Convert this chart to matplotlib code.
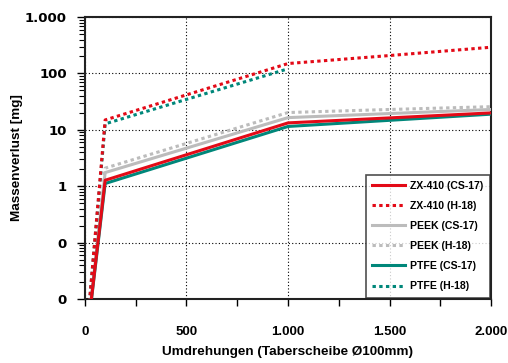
import numpy as np
import matplotlib.pyplot as plt
from matplotlib.ticker import LogLocator, MultipleLocator, NullFormatter

plt.rcParams['font.family'] = ['Liberation Sans', 'DejaVu Sans']
plt.rcParams['font.weight'] = 'bold'

# umdrehungen
x_cs = [0, 100, 1000, 2000]
x_h = [0, 100, 1000, 1500, 2000]
x_ptfe_h = [0, 100, 1000]

# massenverlust [mg]
zx_cs = [0.001, 1.28, 13.3, 20]
zx_h = [0.001, 15, 150, 208, 292]
peek_cs = [0.001, 1.75, 16.5, 23]
peek_h = [0.001, 2.1, 20.3, 23.0, 25.8]
ptfe_cs = [0.001, 1.12, 11.5, 19]
ptfe_h = [0.001, 12.8, 121]

y_ticks = [0.01, 0.1, 1, 10, 100, 1000]
y_labels = ['0', '0', '1', '10', '100', '1.000']
x_ticks = [0, 500, 1000, 1500, 2000]
x_labels = ['0', '500', '1.000', '1.500', '2.000']

red = '#e30a17'
grey = '#bcbcbc'
teal = '#00877a'
dot = (0, (1.1, 1.1))

fig = plt.figure(figsize=(5.08, 3.63), dpi=100)
ax = fig.add_axes([0.167, 0.176, 0.800, 0.777])

ax.plot(x_cs, zx_cs, color=red, lw=2.2, label='ZX-410 (CS-17)', zorder=5)
ax.plot(x_h, zx_h, color=red, lw=2.2, ls=dot, label='ZX-410 (H-18)', zorder=4)
ax.plot(x_cs, peek_cs, color=grey, lw=2.2, label='PEEK (CS-17)', zorder=3)
ax.plot(x_h, peek_h, color=grey, lw=2.2, ls=dot, label='PEEK (H-18)', zorder=3)
ax.plot(x_cs, ptfe_cs, color=teal, lw=2.2, label='PTFE (CS-17)', zorder=4)
ax.plot(x_ptfe_h, ptfe_h, color=teal, lw=2.2, ls=dot, label='PTFE (H-18)', zorder=3)

ax.set_yscale('log')
ax.set_ylim(0.01, 1000)
ax.set_xlim(0, 2000)
ax.set_yticks(y_ticks)
ax.set_yticklabels(y_labels, family='DejaVu Sans', fontweight='bold', fontsize=9.5)
ax.yaxis.set_minor_locator(LogLocator(base=10, subs=np.arange(2, 10), numticks=20))
ax.yaxis.set_minor_formatter(NullFormatter())
ax.set_xticks(x_ticks)
ax.set_xticklabels(x_labels, fontsize=9.5, fontweight='bold')
ax.xaxis.set_minor_locator(MultipleLocator(250))

ax.tick_params(axis='y', which='major', length=6, width=1, pad=7)
ax.tick_params(axis='y', which='minor', length=4, width=0.8)
ax.tick_params(axis='x', which='major', length=5, width=1, pad=14)
ax.tick_params(axis='x', which='minor', length=5, width=1)

ax.grid(True, which='major', color='black', ls=(0, (1, 2)), lw=0.8)
for s in ax.spines.values():
    s.set_linewidth(1.5)
    s.set_color('#222222')

fig.text(17 / 508, 1 - 158 / 363, 'Massenverlust [mg]', rotation=90,
         ha='center', va='center', fontsize=9.7, fontweight='bold')
fig.text(288 / 508, 1 - 352 / 363, 'Umdrehungen (Taberscheibe Ø100mm)',
         ha='center', va='center', fontsize=9.7, fontweight='bold')

leg = ax.legend(loc='lower right', fontsize=7.6, frameon=True, fancybox=False,
                edgecolor='#222222', handlelength=3.1, borderaxespad=0.15,
                labelspacing=0.95, borderpad=0.6, handletextpad=0.5)
leg.get_frame().set_linewidth(1.2)
for t in leg.get_texts():
    t.set_fontweight('bold')

fig.savefig('out.png', dpi=100)
